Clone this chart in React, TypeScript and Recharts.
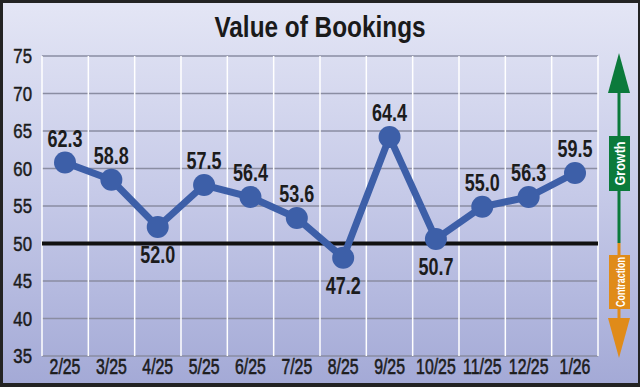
import React from 'react';
import { LineChart, Line, XAxis, YAxis, CartesianGrid, ReferenceLine, LabelList } from 'recharts';

if (typeof document !== 'undefined') {
  document.body.style.margin = '0';
}

const months = ['2/25', '3/25', '4/25', '5/25', '6/25', '7/25', '8/25', '9/25', '10/25', '11/25', '12/25', '1/26'];
// positions of the points as drawn in the picture
const values = [60.8, 58.5, 52.2, 57.8, 56.2, 53.4, 48.1, 64.2, 50.6, 54.9, 56.2, 59.4];
// printed value labels
const valueLabels = ['62.3', '58.8', '52.0', '57.5', '56.4', '53.6', '47.2', '64.4', '50.7', '55.0', '56.3', '59.5'];
const labelBelow = [false, false, true, false, false, false, true, false, true, false, false, false];
const yTicks = [35, 40, 45, 50, 55, 60, 65, 70, 75];

const data = months.map((m, i) => ({ m, v: values[i], label: valueLabels[i], below: labelBelow[i] }));

const FONT = '"Liberation Sans", Arial, sans-serif';
const LINE_COLOR = '#3d5fa8';
const TEXT = '#1c1c1c';

const renderLabel = (props: any) => {
  const { x, y, index } = props;
  const d = data[index];
  if (!d) return null;
  const ty = y + (d.below ? 28 : -24);
  return (
    <text
      transform={`translate(${x},${ty}) scale(0.75,1)`}
      x={0}
      y={0}
      textAnchor="middle"
      dominantBaseline="central"
      fontFamily={FONT}
      fontWeight="bold"
      fontSize={24}
      fill={TEXT}
    >
      {d.label}
    </text>
  );
};

const XTick = (props: any) => {
  const { x, y, payload } = props;
  return (
    <text
      transform={`translate(${x},${y}) scale(0.72,1)`}
      x={0}
      y={0}
      dy="0.71em"
      textAnchor="middle"
      fontFamily={FONT}
      fontSize={22}
      fill={TEXT}
      stroke={TEXT}
      strokeWidth={0.6}
    >
      {payload.value}
    </text>
  );
};

const YTick = (props: any) => {
  const { x, y, payload } = props;
  return (
    <text
      transform={`translate(${x},${y}) scale(0.82,1)`}
      x={0}
      y={0}
      dy="0.355em"
      textAnchor="end"
      fontFamily={FONT}
      fontSize={20.5}
      fill={TEXT}
      stroke={TEXT}
      strokeWidth={0.5}
    >
      {payload.value}
    </text>
  );
};

const verticalGen = (props: any) => {
  const off = props.offset;
  const n = months.length;
  const arr: number[] = [];
  for (let i = 0; i <= n; i++) arr.push(off.left + (i * off.width) / n);
  return arr;
};

export default function App() {
  return (
    <div
      style={{
        position: 'relative',
        width: 640,
        height: 387,
        background: 'linear-gradient(to bottom, #e4e6f5 0%, #c6cae8 50%, #a3a9d6 100%)',
        overflow: 'hidden',
      }}
    >
      <div
        style={{
          position: 'absolute',
          left: 0,
          top: 10,
          width: 640,
          textAlign: 'center',
          fontFamily: FONT,
          fontWeight: 'bold',
          fontSize: 29,
          color: '#1a1a1a',
          lineHeight: '34px',
          transform: 'scaleX(0.84)',
          transformOrigin: '320px 0',
        }}
      >
        Value of Bookings
      </div>
      <div style={{ position: 'absolute', left: 0, top: 0 }}>
        <LineChart width={640} height={387} data={data} margin={{ top: 56, right: 42, bottom: 0, left: 0 }}>
          <CartesianGrid vertical={false} stroke="#8a8da2" strokeWidth={1.5} />
          <CartesianGrid horizontal={false} stroke="#ffffff" strokeWidth={1.5} verticalCoordinatesGenerator={verticalGen} />
          <XAxis
            dataKey="m"
            padding={{ left: 23, right: 23 }}
            tickLine={false}
            axisLine={false}
            tickSize={0}
            tickMargin={2}
            height={31}
            interval={0}
            tick={<XTick />}
          />
          <YAxis
            domain={[35, 75]}
            ticks={yTicks}
            tickLine={false}
            axisLine={false}
            tickSize={0}
            tickMargin={10}
            width={42}
            interval={0}
            tick={<YTick />}
          />
          <ReferenceLine y={50} stroke="#111111" strokeWidth={4} />
          <Line
            type="linear"
            dataKey="v"
            stroke={LINE_COLOR}
            strokeWidth={7}
            dot={{ r: 11, fill: LINE_COLOR, stroke: 'none' }}
            activeDot={false}
            isAnimationActive={false}
          >
            <LabelList dataKey="label" content={renderLabel} />
          </Line>
        </LineChart>
      </div>
      <svg width={640} height={387} style={{ position: 'absolute', left: 0, top: 0, pointerEvents: 'none' }}>
        <line x1={619} y1={90} x2={619} y2={243} stroke="#0b7a3b" strokeWidth={3} />
        <polygon points="619,53 608,93 630,93" fill="#0b7a3b" />
        <rect x={609} y={136} width={21} height={55} fill="#0b7a3b" />
        <text
          transform="translate(620,163.5) rotate(-90) scale(0.9,1)"
          x={0}
          y={0}
          textAnchor="middle"
          dominantBaseline="central"
          fontFamily={FONT}
          fontWeight="bold"
          fontSize={14}
          fill="#ffffff"
        >
          Growth
        </text>
        <line x1={619} y1={243} x2={619} y2={320} stroke="#e08b19" strokeWidth={3} />
        <rect x={609} y={255} width={21} height={54} fill="#e08b19" />
        <text
          transform="translate(620,282) rotate(-90) scale(0.66,1)"
          x={0}
          y={0}
          textAnchor="middle"
          dominantBaseline="central"
          fontFamily={FONT}
          fontWeight="bold"
          fontSize={13.5}
          fill="#ffffff"
        >
          Contraction
        </text>
        <polygon points="608,318 630,318 619,358" fill="#e08b19" />
      </svg>
      <div
        style={{
          position: 'absolute',
          left: 0,
          top: 0,
          width: 640,
          height: 387,
          boxSizing: 'border-box',
          borderStyle: 'solid',
          borderColor: '#232323',
          borderWidth: '3px 2px 4px 3px',
          pointerEvents: 'none',
        }}
      />
    </div>
  );
}
